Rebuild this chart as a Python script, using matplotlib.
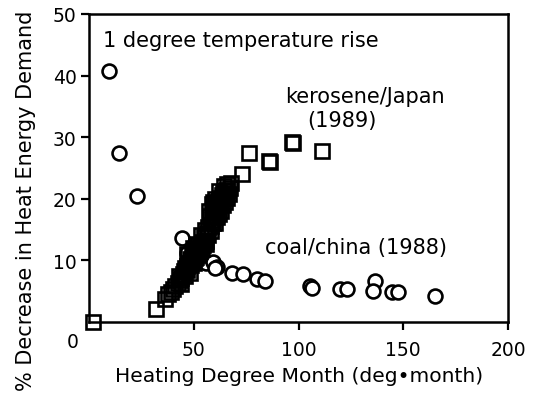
import numpy as np
from matplotlib import pyplot as plt

# coal / china (1988): heating degree month vs % decrease
coal_hdm = [9.7, 14.3, 23.1, 44.5, 47, 49, 51, 53, 56, 59, 61, 60.1, 68.1, 73.7,
            80.0, 84.0, 105.5, 106.5, 119.8, 123, 136.5, 135.7, 144.5, 147.6, 165.2]
coal_dec = [40.8, 27.4, 20.5, 13.6, 11.2, 10.6, 10.2, 9.9, 9.5, 9.8, 9.0, 8.8, 8.0, 7.8,
            6.9, 6.7, 5.9, 5.6, 5.3, 5.3, 6.7, 5.0, 4.8, 4.8, 4.2]

# kerosene / Japan (1989)
kero_hdm = [1.7, 32.0, 36.3, 37.9, 39, 40.2, 41, 42.6, 43.5, 44, 45, 45.5, 46.6, 47.5,
            48, 49, 50, 50.6, 51.5, 52, 53, 54, 55, 56.2, 57, 57.8, 58.5, 59, 59.3,
            60, 61, 61.5, 62, 62.5, 63.5, 64, 64.9, 66, 67.3, 72.9, 76.5, 86.1, 86.5,
            97.2, 97.0, 111.1,
            46, 48.5, 50.5, 52.5, 54.5, 56, 55.5, 58, 60, 61, 63, 65, 66, 64.5, 58.8, 57.3,
            47, 49.5, 51, 53.5,
            43, 44, 46, 47, 48, 49, 50, 51, 52, 53, 54, 55, 56, 57, 58, 59, 60, 61,
            62, 63, 64, 65, 66, 67, 68, 62, 60, 59]
kero_dec = [0.0, 2.1, 3.7, 4.5, 4.9, 5.3, 5.8, 6.4, 6.8, 7.2, 7.8, 8.2, 9.1, 9.6,
            10.2, 10.7, 11.0, 11.8, 11.5, 12.5, 12.1, 13.0, 13.8, 14.5, 15.5, 17.2, 16.5, 17.8, 18.3,
            18.6, 19.4, 18.8, 19.8, 20.2, 20.6, 21.0, 21.3, 21.5, 21.8, 24.0, 27.4, 26.2, 26.0,
            29.0, 29.3, 27.8,
            8.8, 9.2, 10.4, 11.2, 12.5, 13.2, 15.0, 15.6, 17.2, 18.2, 19.2, 20.5, 22.4, 22.0, 19.2, 18.0,
            11.0, 12.0, 12.6, 14.2,
            7.5, 6.2, 7.5, 8.4, 8.0, 9.8, 9.6, 10.6, 10.8, 11.6, 11.8, 12.8, 12.6, 14.2, 14.8, 16.0, 16.0, 17.0,
            17.6, 18.0, 19.0, 19.5, 20.2, 20.8, 22.5, 21.2, 20.0, 19.5]

xticks = [50, 100, 150, 200]
yticks = [10, 20, 30, 40, 50]

fig = plt.figure(figsize=(5.38, 4.02), dpi=100)
ax = fig.add_axes([89 / 538, 1 - 323 / 402, 419 / 538, 308 / 402])

ax.plot(coal_hdm, coal_dec, 'o', ms=10, mfc='white', mec='black', mew=1.9, clip_on=False)
ax.plot(kero_hdm, kero_dec, 's', ms=10, mfc='none', mec='black', mew=1.9, clip_on=False)

ax.set_xlim(0, 200)
ax.set_ylim(0, 50)
ax.set_xticks(xticks)
ax.set_yticks(yticks)
ax.tick_params(axis='both', direction='out', length=6, width=1.6, labelsize=13.5, color='black')
ax.tick_params(axis='x', pad=7)
ax.tick_params(axis='y', pad=3)
for s in ax.spines.values():
    s.set_linewidth(1.8)

fig.text(72.7 / 538, 1 - 343 / 402, '0', ha='center', va='center', fontsize=13.5)

fig.text(103 / 538, 1 - 41 / 402, '1 degree temperature rise', fontsize=15,
         ha='left', va='center')
fig.text(365 / 538, 1 - 97 / 402, 'kerosene/Japan', ha='center', va='center', fontsize=15)
fig.text(342 / 538, 1 - 121 / 402, '(1989)', ha='center', va='center', fontsize=15)
fig.text(356 / 538, 1 - 248 / 402, 'coal/china (1988)', ha='center', va='center', fontsize=15)

fig.text(299 / 538, 1 - 377 / 402, 'Heating Degree Month (deg\u2022month)',
         ha='center', va='center', fontsize=14.6)
fig.text(26 / 538, 1 - 201 / 402, '% Decrease in Heat Energy Demand',
         ha='center', va='center', rotation=90, fontsize=15)

fig.savefig('out.png', dpi=100)
